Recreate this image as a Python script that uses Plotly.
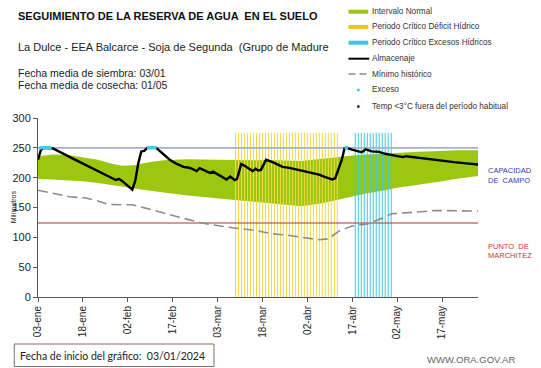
import plotly.graph_objects as go
import pandas as pd

# ---------------- data ----------------
inicio = pd.Timestamp("2024-01-03")
fin = pd.Timestamp("2024-05-29")

tick_fechas = ["2024-01-03", "2024-01-18", "2024-02-02", "2024-02-17", "2024-03-03",
               "2024-03-18", "2024-04-02", "2024-04-17", "2024-05-02", "2024-05-17"]
tick_textos = ["03-ene", "18-ene", "02-feb", "17-feb", "03-mar",
               "18-mar", "02-abr", "17-abr", "02-may", "17-may"]

# day offsets from start date
dias_normal = [0, 5, 10, 15, 20, 25, 28, 32, 37, 42, 50, 60, 70, 80, 88, 95, 100,
               105, 110, 116, 120, 127, 130, 135, 140, 147]
normal_sup = [236, 239, 238, 234, 230, 223, 220, 221, 226, 229, 231, 230, 230, 229, 228,
              232, 235, 237, 239, 241, 242, 243.5, 244, 245, 246, 246]
normal_inf = [198, 197, 196, 194, 191, 188, 185, 182, 178, 175, 170, 165, 161, 155, 152,
              157, 163, 169, 174, 179, 183, 188, 190, 194, 198, 203]

dias_alm = [0, 1, 2, 4, 5, 12, 19, 26, 27, 28, 31.5, 32.5, 33.5, 34.5, 35.5, 36.5, 39.5,
            42, 44, 46, 48.6, 50, 51, 53, 54, 56.5, 57.5, 58.5, 61.8, 63, 64.2, 65.7, 66.5,
            67.9, 69, 71.7, 72.7, 73.5, 74.5, 76.2, 78.4, 81.7, 84, 86, 88.4, 91, 93.9, 96,
            98.3, 99.3, 100.4, 101.5, 102.4, 103, 104.9, 108.2, 109.5, 111.5, 113.7, 116,
            119.2, 122, 123, 126, 130.3, 135, 139, 143, 147.4]
almacenaje = [230, 247, 250, 250, 249, 231, 213, 196, 198, 195, 180, 195, 224, 244, 245, 250, 250,
              238, 230, 224, 218, 217, 216, 211, 216, 210, 208, 210, 200, 197, 202, 196, 198,
              223, 220, 211, 215, 212, 213, 230, 226, 218, 216.5, 214, 211, 208, 205, 201,
              197, 199, 213, 230, 249, 250, 247, 242.5, 247.5, 244, 243.5, 240,
              237, 234.5, 236, 234, 231.5, 228, 226, 224, 222]

dias_min = [0, 5, 10.5, 16, 19.3, 23.7, 31.5, 35.9, 41.4, 46.9, 54.7, 63.5, 73.4, 78, 82.7,
            93.8, 97, 100.4, 104.9, 110.4, 113.7, 118.1, 127, 132.5, 147.4]
minimo_hist = [179, 174, 168, 166, 162, 155, 154.5, 149, 141, 134, 124, 117, 111, 106, 104,
               96, 97.5, 110, 119, 123, 129.5, 139.5, 142.5, 145, 144]

dias_exceso = [1, 2, 3, 4, 37, 38, 39, 103]
exceso = [250, 250, 250, 250, 250, 250, 250, 250]

deficit_inicio, deficit_fin = "2024-03-09", "2024-04-12"
excesos_inicio, excesos_fin = "2024-04-18", "2024-04-30"
altura_periodo = 275

capacidad_campo = 250
punto_marchitez = 124


def fechas(dias):
    return [inicio + pd.Timedelta(days=d) for d in dias]


def barras_verticales(d0, d1, h):
    xs, ys = [], []
    for d in pd.date_range(d0, d1, freq="D"):
        xs += [d, d, None]
        ys += [0, h, None]
    return xs, ys


# ---------------- figure ----------------
W, H = 541, 368
L, R, T, B = 33, 63, 118, 71
PW, PH = W - L - R, H - T - B


def px(x):
    return (x - L) / PW


def py(y):
    return (H - B - y) / PH


FONT = "Liberation Sans, Arial, sans-serif"
GREEN = "#9BC80F"
YELLOW = "#F3D94A"
CYAN = "#3CC8E2"

fig = go.Figure()

fig.add_trace(go.Scatter(x=fechas(dias_normal), y=normal_inf, mode="lines",
                         line=dict(width=0, color=GREEN), showlegend=False, hoverinfo="skip"))
fig.add_trace(go.Scatter(x=fechas(dias_normal), y=normal_sup, mode="lines", fill="tonexty",
                         fillcolor=GREEN, line=dict(width=0, color=GREEN),
                         name="Intervalo Normal", showlegend=False))

xd, yd = barras_verticales(deficit_inicio, deficit_fin, altura_periodo)
fig.add_trace(go.Scatter(x=xd, y=yd, mode="lines", line=dict(color=YELLOW, width=1),
                         name="Periodo Crítico Déficit Hídrico", showlegend=False))
xe, ye = barras_verticales(excesos_inicio, excesos_fin, altura_periodo)
fig.add_trace(go.Scatter(x=xe, y=ye, mode="lines", line=dict(color=CYAN, width=1),
                         name="Periodo Crítico Excesos Hídricos", showlegend=False))

fig.add_trace(go.Scatter(x=[inicio, fin], y=[capacidad_campo] * 2, mode="lines",
                         line=dict(color="#A3B3C8", width=1.6), showlegend=False,
                         name="Capacidad de campo"))
fig.add_trace(go.Scatter(x=[inicio, fin], y=[punto_marchitez] * 2, mode="lines",
                         line=dict(color="#B83030", width=1), showlegend=False,
                         name="Punto de marchitez"))

fig.add_trace(go.Scatter(x=fechas(dias_min), y=minimo_hist, mode="lines",
                         line=dict(color="#8C8C8C", width=1.6, dash="10px,5px"),
                         name="Mínimo histórico", showlegend=False))
fig.add_trace(go.Scatter(x=fechas(dias_alm), y=almacenaje, mode="lines",
                         line=dict(color="black", width=2.4),
                         name="Almacenaje", showlegend=False))
fig.add_trace(go.Scatter(x=fechas(dias_exceso), y=exceso, mode="markers",
                         marker=dict(color="#3CCFEF", size=4),
                         name="Exceso", showlegend=False))

fig.update_layout(
    width=W, height=H,
    margin=dict(l=L, r=R, t=T, b=B),
    paper_bgcolor="white", plot_bgcolor="white",
    font=dict(family=FONT, color="#222"),
    showlegend=False,
    xaxis=dict(type="date", range=[inicio, fin], tickvals=tick_fechas, ticktext=tick_textos,
               tickangle=-90, tickfont=dict(size=10, family=FONT, color="#222"),
               ticks="outside", ticklen=4, tickcolor="#555", showline=True,
               linecolor="#555", linewidth=1, showgrid=False, zeroline=False),
    yaxis=dict(range=[0, 300], tickvals=[0, 50, 100, 150, 200, 250, 300],
               tickfont=dict(size=11, family=FONT, color="#222"),
               ticks="outside", ticklen=4, tickcolor="#555", showline=True,
               linecolor="#555", linewidth=1, showgrid=False, zeroline=False),
)

ann = []


def text(x, y, s, size, color="#222", bold=False, xanchor="left", angle=0, family=FONT):
    ann.append(dict(x=px(x), y=py(y), xref="paper", yref="paper", text=("<b>%s</b>" % s) if bold else s,
                    showarrow=False, xanchor=xanchor, yanchor="middle", textangle=angle,
                    font=dict(size=size, color=color, family=family)))


text(11, 15.5, "SEGUIMIENTO DE LA RESERVA DE AGUA  EN EL SUELO", 11, "#111", bold=True)
text(11, 47, "La Dulce - EEA Balcarce - Soja de Segunda  (Grupo de Madure", 11, "#222")
text(11, 73, "Fecha media de siembra: 03/01", 10.5, "#222")
text(11, 85, "Fecha media de cosecha: 01/05", 10.5, "#222")
text(8, 207, "Milímetros", 7, "#222", xanchor="center", angle=-90)

text(486, 170.5, "CAPACIDAD", 7.5, "#3A3AB0")
text(486, 180, "DE  CAMPO", 7.5, "#3A3AB0")
text(486, 246, "PUNTO  DE", 7.5, "#C03A3A")
text(486, 255.5, "MARCHITEZ", 7.5, "#C03A3A")

text(13, 355.5, "Fecha de inicio del gráfico:  03/01/2024", 10.5, "#222", family="Lato, Open Sans, sans-serif")
text(517, 359.5, "WWW.ORA.GOV.AR", 9.5, "#666", xanchor="right")

shapes = [dict(type="rect", xref="paper", yref="paper", x0=px(9), x1=px(211), y0=py(344), y1=py(366.5),
               line=dict(color="#8A6A6A", width=1), fillcolor="rgba(0,0,0,0)")]

# manual legend
leg_items = [
    ("bar", GREEN, "Intervalo Normal", 11.7),
    ("bar", "#F4C21A", "Periodo Crítico Déficit Hídrico", 27),
    ("bar", CYAN, "Periodo Crítico Excesos Hídricos", 42.7),
    ("line", "black", "Almacenaje", 58.7),
    ("dash", "#8C8C8C", "Mínimo histórico", 74),
    ("dot", "#3CCFEF", "Exceso", 90),
    ("dot", "#1F2FA0", "Temp <3°C fuera del período habitual", 106.5),
]
for kind, col, lab, y in leg_items:
    if kind == "bar":
        shapes.append(dict(type="rect", xref="paper", yref="paper", x0=px(347), x1=px(367),
                           y0=py(y + 2), y1=py(y - 2), line=dict(width=0), fillcolor=col))
    elif kind == "line":
        shapes.append(dict(type="line", xref="paper", yref="paper", x0=px(347), x1=px(368),
                           y0=py(y), y1=py(y), line=dict(color=col, width=2)))
    elif kind == "dash":
        shapes.append(dict(type="line", xref="paper", yref="paper", x0=px(347), x1=px(368),
                           y0=py(y), y1=py(y), line=dict(color=col, width=1.6, dash="7px,4px")))
    else:
        shapes.append(dict(type="circle", xref="paper", yref="paper", x0=px(355.5), x1=px(358.5),
                           y0=py(y + 1.5), y1=py(y - 1.5), line=dict(width=0), fillcolor=col))
    text(369, y, lab, 8.2, "#333")

fig.update_layout(annotations=ann, shapes=shapes)

fig.write_html("out.html", post_script="document.body.style.margin='0px';",
               config={"displayModeBar": False})
